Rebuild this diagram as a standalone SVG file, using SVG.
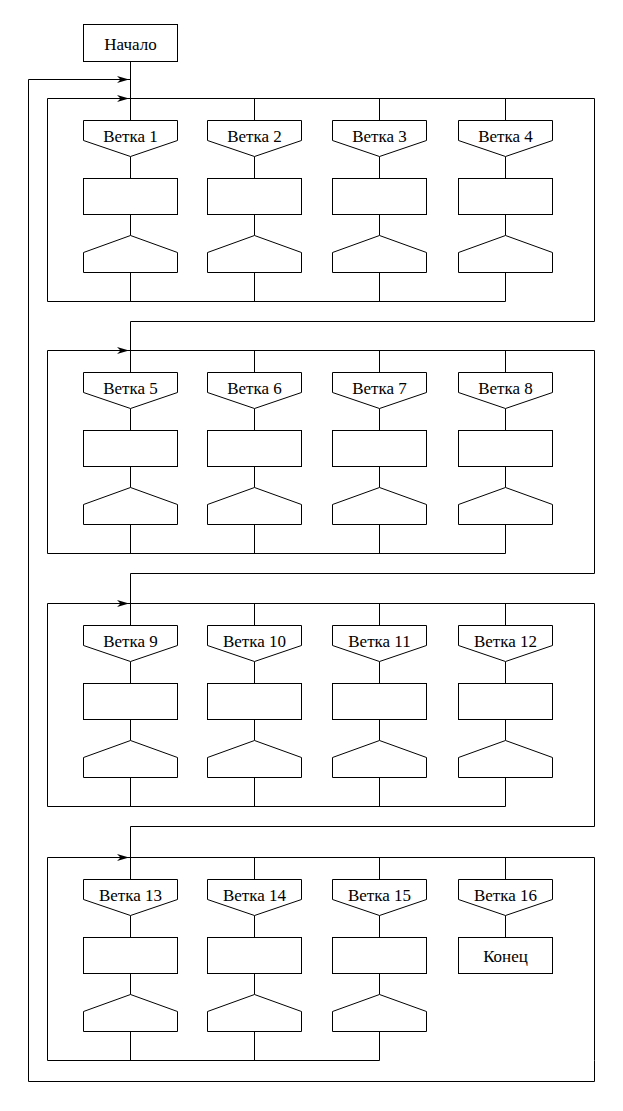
<svg xmlns="http://www.w3.org/2000/svg" width="623" height="1111" viewBox="0 0 623 1111">
<style>
.s{fill:#fff;stroke:#000;stroke-width:1}
.c{fill:none;stroke:#000;stroke-width:1}
.t{font-family:Liberation Serif,Times New Roman,Times,Tinos,Noto Serif,DejaVu Serif,FreeSerif,serif;font-size:17px;fill:#000;text-anchor:middle}
.a{fill:#000;stroke:none}
</style>
<defs>
<polygon id="hex" points="0,0 94,0 94,20 47,36 0,20"/>
<polygon id="endp" points="47,115 94,132 94,152 0,152 0,132"/>
<path id="arr" d="M129,0 L117,-3.5 L120.5,0 L117,3.5 Z"/>
</defs>
<rect width="623" height="1111" fill="#fff"/>

<g id="connectors">
<path class="c" d="M594.5,1060.5 V1081.5 H28.5 V79.5 H130.5"/>
<use href="#arr" class="a" transform="translate(0,79.5)"/>
<path class="c" d="M130.5,61.5 V120.5"/>
<path class="c" d="M505.5,301.5 H47.5 V98.5 H594.5 V321.5 H130.5 V372.5"/>
<use href="#arr" class="a" transform="translate(0,98.5)"/>
<path class="c" d="M130.5,156.5 V178.5 M130.5,214.5 V235.5 M130.5,272.5 V301.5
M254.5,98.5 V120.5 M254.5,156.5 V178.5 M254.5,214.5 V235.5 M254.5,272.5 V301.5
M379.5,98.5 V120.5 M379.5,156.5 V178.5 M379.5,214.5 V235.5 M379.5,272.5 V301.5
M505.5,98.5 V120.5 M505.5,156.5 V178.5 M505.5,214.5 V235.5 M505.5,272.5 V301.5"/>
<path class="c" d="M505.5,553.5 H47.5 V350.5 H594.5 V573.5 H130.5 V625.5"/>
<use href="#arr" class="a" transform="translate(0,350.5)"/>
<path class="c" d="M130.5,408.5 V430.5 M130.5,466.5 V487.5 M130.5,524.5 V553.5
M254.5,350.5 V372.5 M254.5,408.5 V430.5 M254.5,466.5 V487.5 M254.5,524.5 V553.5
M379.5,350.5 V372.5 M379.5,408.5 V430.5 M379.5,466.5 V487.5 M379.5,524.5 V553.5
M505.5,350.5 V372.5 M505.5,408.5 V430.5 M505.5,466.5 V487.5 M505.5,524.5 V553.5"/>
<path class="c" d="M505.5,806.5 H47.5 V603.5 H594.5 V826.5 H130.5 V879.5"/>
<use href="#arr" class="a" transform="translate(0,603.5)"/>
<path class="c" d="M130.5,661.5 V683.5 M130.5,719.5 V740.5 M130.5,777.5 V806.5
M254.5,603.5 V625.5 M254.5,661.5 V683.5 M254.5,719.5 V740.5 M254.5,777.5 V806.5
M379.5,603.5 V625.5 M379.5,661.5 V683.5 M379.5,719.5 V740.5 M379.5,777.5 V806.5
M505.5,603.5 V625.5 M505.5,661.5 V683.5 M505.5,719.5 V740.5 M505.5,777.5 V806.5"/>
<path class="c" d="M379.5,1060.5 H47.5 V857.5 H594.5 V1060.5"/>
<use href="#arr" class="a" transform="translate(0,857.5)"/>
<path class="c" d="M130.5,915.5 V937.5 M130.5,973.5 V994.5 M130.5,1031.5 V1060.5
M254.5,857.5 V879.5 M254.5,915.5 V937.5 M254.5,973.5 V994.5 M254.5,1031.5 V1060.5
M379.5,857.5 V879.5 M379.5,915.5 V937.5 M379.5,973.5 V994.5 M379.5,1031.5 V1060.5
M505.5,857.5 V879.5 M505.5,915.5 V937.5"/>
</g>

<g id="start"><rect class="s" x="83.5" y="24.5" width="94" height="37"/><text class="t" x="130.5" y="49.5">Начало</text></g>

<g id="b1" transform="translate(83.5,120.5)"><use href="#hex" class="s"/><text class="t" x="47" y="21.5">Ветка 1</text></g>
<g id="p1"><rect class="s" x="83.5" y="178.5" width="94" height="36"/></g>
<g id="e1" transform="translate(83.5,120.5)"><use href="#endp" class="s"/></g>
<g id="b2" transform="translate(207.5,120.5)"><use href="#hex" class="s"/><text class="t" x="47" y="21.5">Ветка 2</text></g>
<g id="p2"><rect class="s" x="207.5" y="178.5" width="94" height="36"/></g>
<g id="e2" transform="translate(207.5,120.5)"><use href="#endp" class="s"/></g>
<g id="b3" transform="translate(332.5,120.5)"><use href="#hex" class="s"/><text class="t" x="47" y="21.5">Ветка 3</text></g>
<g id="p3"><rect class="s" x="332.5" y="178.5" width="94" height="36"/></g>
<g id="e3" transform="translate(332.5,120.5)"><use href="#endp" class="s"/></g>
<g id="b4" transform="translate(458.5,120.5)"><use href="#hex" class="s"/><text class="t" x="47" y="21.5">Ветка 4</text></g>
<g id="p4"><rect class="s" x="458.5" y="178.5" width="94" height="36"/></g>
<g id="e4" transform="translate(458.5,120.5)"><use href="#endp" class="s"/></g>

<g id="b5" transform="translate(83.5,372.5)"><use href="#hex" class="s"/><text class="t" x="47" y="21.5">Ветка 5</text></g>
<g id="p5"><rect class="s" x="83.5" y="430.5" width="94" height="36"/></g>
<g id="e5" transform="translate(83.5,372.5)"><use href="#endp" class="s"/></g>
<g id="b6" transform="translate(207.5,372.5)"><use href="#hex" class="s"/><text class="t" x="47" y="21.5">Ветка 6</text></g>
<g id="p6"><rect class="s" x="207.5" y="430.5" width="94" height="36"/></g>
<g id="e6" transform="translate(207.5,372.5)"><use href="#endp" class="s"/></g>
<g id="b7" transform="translate(332.5,372.5)"><use href="#hex" class="s"/><text class="t" x="47" y="21.5">Ветка 7</text></g>
<g id="p7"><rect class="s" x="332.5" y="430.5" width="94" height="36"/></g>
<g id="e7" transform="translate(332.5,372.5)"><use href="#endp" class="s"/></g>
<g id="b8" transform="translate(458.5,372.5)"><use href="#hex" class="s"/><text class="t" x="47" y="21.5">Ветка 8</text></g>
<g id="p8"><rect class="s" x="458.5" y="430.5" width="94" height="36"/></g>
<g id="e8" transform="translate(458.5,372.5)"><use href="#endp" class="s"/></g>

<g id="b9" transform="translate(83.5,625.5)"><use href="#hex" class="s"/><text class="t" x="47" y="21.5">Ветка 9</text></g>
<g id="p9"><rect class="s" x="83.5" y="683.5" width="94" height="36"/></g>
<g id="e9" transform="translate(83.5,625.5)"><use href="#endp" class="s"/></g>
<g id="b10" transform="translate(207.5,625.5)"><use href="#hex" class="s"/><text class="t" x="47" y="21.5">Ветка 10</text></g>
<g id="p10"><rect class="s" x="207.5" y="683.5" width="94" height="36"/></g>
<g id="e10" transform="translate(207.5,625.5)"><use href="#endp" class="s"/></g>
<g id="b11" transform="translate(332.5,625.5)"><use href="#hex" class="s"/><text class="t" x="47" y="21.5">Ветка 11</text></g>
<g id="p11"><rect class="s" x="332.5" y="683.5" width="94" height="36"/></g>
<g id="e11" transform="translate(332.5,625.5)"><use href="#endp" class="s"/></g>
<g id="b12" transform="translate(458.5,625.5)"><use href="#hex" class="s"/><text class="t" x="47" y="21.5">Ветка 12</text></g>
<g id="p12"><rect class="s" x="458.5" y="683.5" width="94" height="36"/></g>
<g id="e12" transform="translate(458.5,625.5)"><use href="#endp" class="s"/></g>

<g id="b13" transform="translate(83.5,879.5)"><use href="#hex" class="s"/><text class="t" x="47" y="21.5">Ветка 13</text></g>
<g id="p13"><rect class="s" x="83.5" y="937.5" width="94" height="36"/></g>
<g id="e13" transform="translate(83.5,879.5)"><use href="#endp" class="s"/></g>
<g id="b14" transform="translate(207.5,879.5)"><use href="#hex" class="s"/><text class="t" x="47" y="21.5">Ветка 14</text></g>
<g id="p14"><rect class="s" x="207.5" y="937.5" width="94" height="36"/></g>
<g id="e14" transform="translate(207.5,879.5)"><use href="#endp" class="s"/></g>
<g id="b15" transform="translate(332.5,879.5)"><use href="#hex" class="s"/><text class="t" x="47" y="21.5">Ветка 15</text></g>
<g id="p15"><rect class="s" x="332.5" y="937.5" width="94" height="36"/></g>
<g id="e15" transform="translate(332.5,879.5)"><use href="#endp" class="s"/></g>
<g id="b16" transform="translate(458.5,879.5)"><use href="#hex" class="s"/><text class="t" x="47" y="21.5">Ветка 16</text></g>
<g id="end"><rect class="s" x="458.5" y="937.5" width="94" height="36"/><text class="t" x="505.5" y="961.5">Конец</text></g>
</svg>
